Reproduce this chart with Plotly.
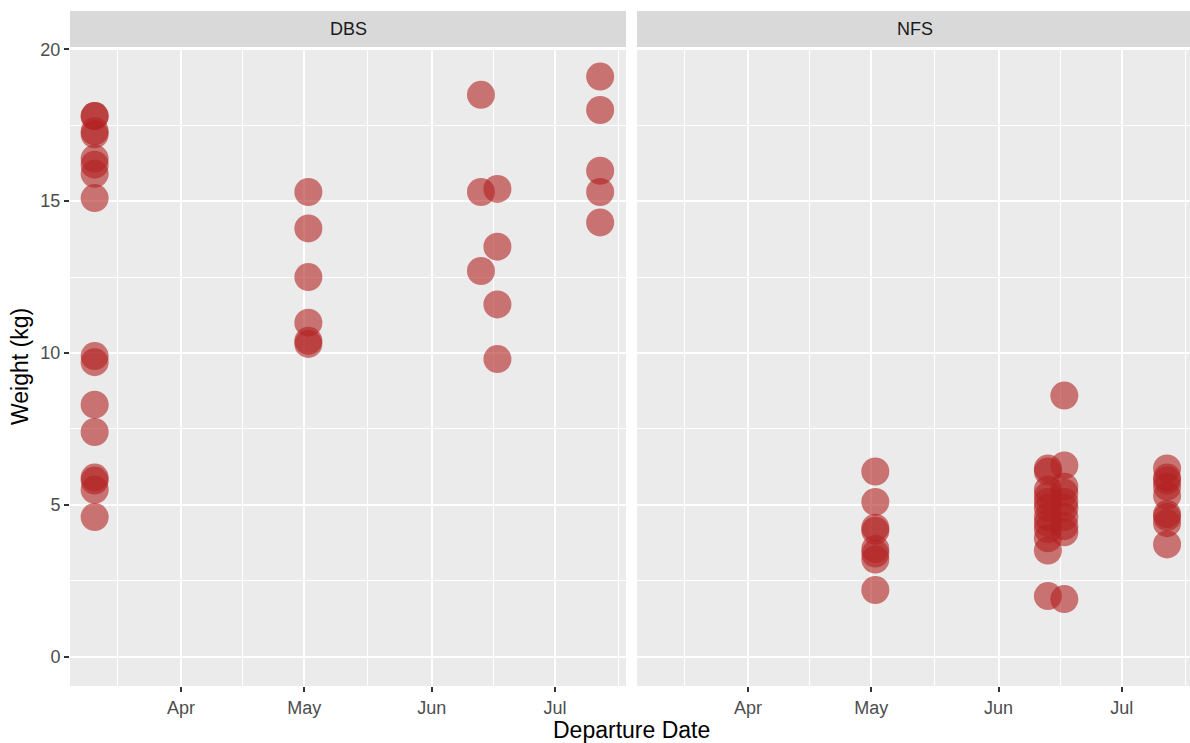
import plotly.graph_objects as go

# ---- data ----
dbs_dates = (["2018-03-11"] * 16 + ["2018-05-02"] * 6 + ["2018-06-13"] * 3
             + ["2018-06-17"] * 4 + ["2018-07-12"] * 5)
dbs_weights = [17.8, 17.8, 17.3, 17.2, 16.4, 16.2, 15.9, 15.1,
               9.9, 9.7, 8.3, 7.4, 5.9, 5.8, 5.5, 4.6,
               15.3, 14.1, 12.5, 11.0, 10.4, 10.3,
               18.5, 15.3, 12.7,
               15.4, 13.5, 11.6, 9.8,
               19.1, 18.0, 16.0, 15.3, 14.3]

nfs_dates = (["2018-05-02"] * 8 + ["2018-06-13"] * 12 + ["2018-06-17"] * 10
             + ["2018-07-12"] * 9)
nfs_weights = [6.1, 5.1, 4.25, 4.15, 3.55, 3.4, 3.2, 2.2,
               6.2, 6.1, 5.5, 5.3, 5.1, 4.9, 4.6, 4.4, 4.2, 3.9, 3.5, 2.0,
               8.6, 6.3, 5.6, 5.4, 5.1, 4.9, 4.6, 4.3, 4.1, 1.9,
               6.2, 5.9, 5.8, 5.6, 5.3, 4.7, 4.6, 4.4, 3.7]

facets = ["DBS", "NFS"]
x_ticks = ["2018-04-01", "2018-05-01", "2018-06-01", "2018-07-01"]
x_ticklabels = ["Apr", "May", "Jun", "Jul"]
x_minor = ["2018-03-16 12:00", "2018-04-16", "2018-05-16 12:00",
           "2018-06-16", "2018-07-16 12:00"]
y_ticks = [0, 5, 10, 15, 20]
y_minor = [2.5, 7.5, 12.5, 17.5]

FONT = "Liberation Sans, Arial, sans-serif"
W, H = 1190, 743
marker = dict(size=28, color="rgba(178,34,34,0.6)", line=dict(width=0))

fig = go.Figure()
fig.add_trace(go.Scatter(x=dbs_dates, y=dbs_weights, mode="markers",
                         marker=marker, xaxis="x", yaxis="y", showlegend=False))
fig.add_trace(go.Scatter(x=nfs_dates, y=nfs_weights, mode="markers",
                         marker=marker, xaxis="x2", yaxis="y2", showlegend=False))

ydom = [1 - 686 / H, 1 - 48 / H]
x1dom = [70 / W, 626 / W]
x2dom = [637 / W, 1.0]

common_x = dict(
    type="date", tickmode="array", tickvals=x_ticks, ticktext=x_ticklabels,
    showgrid=True, gridcolor="white", gridwidth=2, zeroline=False, showline=False,
    ticks="outside", ticklen=5, tickwidth=1.5, tickcolor="#333333",
    tickfont=dict(family=FONT, size=18, color="#4D4D4D"),
    minor=dict(tickmode="array", tickvals=x_minor, showgrid=True,
               gridcolor="white", gridwidth=1, ticks=""),
    automargin=False,
)
common_y = dict(
    range=[-0.96, 20.04], tickmode="array", tickvals=y_ticks,
    showgrid=True, gridcolor="white", gridwidth=2, zeroline=False, showline=False,
    minor=dict(tickmode="array", tickvals=y_minor, showgrid=True,
               gridcolor="white", gridwidth=1, ticks=""),
    domain=ydom, automargin=False,
)

fig.update_layout(
    width=W, height=H,
    margin=dict(l=0, r=0, t=0, b=0, pad=0),
    paper_bgcolor="white", plot_bgcolor="#EBEBEB",
    xaxis=dict(common_x, domain=x1dom, anchor="y",
               range=["2018-03-05 00:00", "2018-07-18 07:00"]),
    xaxis2=dict(common_x, domain=x2dom, anchor="y2",
                range=["2018-03-05 00:00", "2018-07-17 14:00"]),
    yaxis=dict(common_y, anchor="x", ticks="outside", ticklen=5, tickwidth=1.5,
               tickcolor="#333333",
               tickfont=dict(family=FONT, size=18, color="#4D4D4D")),
    yaxis2=dict(common_y, anchor="x2", showticklabels=False, ticks=""),
)

shapes = []
annotations = []
for name, dom in zip(facets, [x1dom, x2dom]):
    shapes.append(dict(type="rect", xref="paper", yref="paper",
                       x0=dom[0], x1=dom[0] + 556 / W,
                       y0=1 - 47 / H, y1=1 - 11 / H,
                       fillcolor="#D9D9D9", line=dict(width=0), layer="below"))
    xc = dom[0] + 278 / W
    annotations.append(dict(text=name, xref="paper", yref="paper", x=xc,
                            y=1 - 29 / H, showarrow=False, xanchor="center",
                            yanchor="middle",
                            font=dict(family=FONT, size=18, color="#1A1A1A")))

annotations.append(dict(text="Departure Date", xref="paper", yref="paper",
                        x=631 / W, y=1 - 730 / H, showarrow=False,
                        xanchor="center", yanchor="middle",
                        font=dict(family=FONT, size=23, color="black")))
annotations.append(dict(text="Weight (kg)", xref="paper", yref="paper",
                        x=20 / W, y=1 - 367 / H, showarrow=False, textangle=-90,
                        xanchor="center", yanchor="middle",
                        font=dict(family=FONT, size=23, color="black")))

fig.update_layout(shapes=shapes, annotations=annotations)
fig.write_html("out.html",
               config={"displayModeBar": False},
               post_script="document.body.style.margin='0';"
                           "document.body.style.padding='0';")
